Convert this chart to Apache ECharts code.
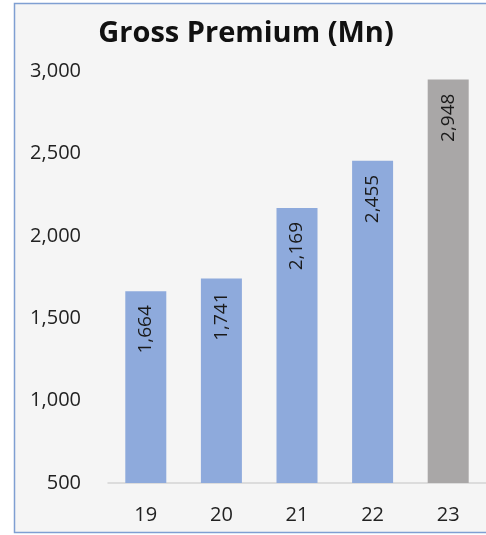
<!DOCTYPE html>
<html>
<head>
<meta charset="utf-8">
<style>
  html, body { margin: 0; padding: 0; background: #ffffff; }
  #chart { width: 486px; height: 535px; }
</style>
<script src="https://cdn.jsdelivr.net/npm/echarts@6/dist/echarts.min.js"></script>
</head>
<body>
<div id="chart"></div>
<script>
// Gross premium by year (millions)
const years = ['19', '20', '21', '22', '23'];
const premium = [1664, 1741, 2169, 2455, 2948];
const barColors = ['#8eaadc', '#8eaadc', '#8eaadc', '#8eaadc', '#a9a7a7'];
const yTicks = { min: 500, max: 3000, interval: 500 };

const chart = echarts.init(document.getElementById('chart'));
const font = '"Open Sans", "Noto Sans", sans-serif';

chart.setOption({
  animation: false,
  backgroundColor: '#ffffff',
  graphic: [{
    type: 'rect',
    silent: true,
    z: -10,
    shape: { x: 14.5, y: 3.5, width: 480, height: 529 },
    style: { fill: '#f5f5f5', stroke: '#7f9fd2', lineWidth: 1.5 }
  }],
  title: {
    text: 'Gross Premium (Mn)',
    left: 241,
    textAlign: 'center',
    top: 14,
    textStyle: { fontFamily: font, fontSize: 29, fontWeight: 'bold', color: '#111111' }
  },
  grid: { left: 108, right: -1, top: 71, bottom: 52 },
  xAxis: {
    type: 'category',
    data: years,
    axisLine: { lineStyle: { color: '#d4d4d4', width: 1.5 } },
    axisTick: { show: false },
    axisLabel: { fontFamily: font, fontSize: 20, color: '#222222', margin: 22 }
  },
  yAxis: {
    type: 'value',
    min: yTicks.min,
    max: yTicks.max,
    interval: yTicks.interval,
    splitLine: { show: false },
    axisLine: { show: false },
    axisTick: { show: false },
    axisLabel: {
      fontFamily: font, fontSize: 20, color: '#222222', margin: 27,
      formatter: v => v.toLocaleString('en-US')
    }
  },
  series: [{
    type: 'bar',
    data: premium.map((v, i) => ({ value: v, itemStyle: { color: barColors[i] } })),
    barWidth: 41,
    label: {
      show: true,
      position: 'insideTop',
      rotate: 90,
      align: 'right',
      verticalAlign: 'middle',
      distance: 14,
      fontFamily: font,
      fontSize: 19,
      color: '#1a1a1a',
      formatter: p => p.value.toLocaleString('en-US')
    }
  }]
});
</script>
</body>
</html>
